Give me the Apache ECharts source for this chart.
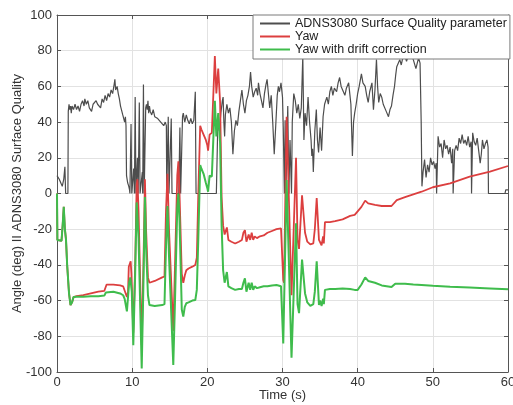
<!DOCTYPE html>
<html>
<head>
<meta charset="utf-8">
<script src="https://cdn.jsdelivr.net/npm/echarts@6/dist/echarts.min.js"></script>
<style>html,body{margin:0;padding:0;background:#fff}#c{width:513px;height:405px}</style>
</head>
<body>
<div id="c"></div>
<script>
var seriesNames = ['ADNS3080 Surface Quality parameter', 'Yaw', 'Yaw with drift correction'];
var xTicks = [0, 10, 20, 30, 40, 50, 60];
var yTicks = [-100, -80, -60, -40, -20, 0, 20, 40, 60, 80, 100];

var qualityT = [0,0.3,0.5,0.7,0.9,1.05,1.15,1.45,1.5,1.6,1.7,1.8,1.9,2.0,2.2,2.4,2.6,2.8,3.0,3.2,3.4,3.6,3.7,3.9,4.1,4.3,4.5,4.6,4.8,5.0,5.2,5.4,5.6,5.8,6.0,6.2,6.4,6.6,6.8,7.0,7.2,7.4,7.6,7.7,7.8,8.0,8.15,8.3,8.45,8.6,8.75,8.9,9.0,9.1,9.18,9.25,9.4,9.55,9.65,9.7,9.85,9.95,10.1,10.2,10.3,10.4,10.5,10.65,10.7,10.8,10.95,11.05,11.25,11.35,11.4,11.5,11.6,11.75,11.8,11.9,12.0,12.1,12.2,12.3,12.4,12.6,12.8,13.0,13.2,13.4,13.6,13.8,14.0,14.2,14.4,14.55,14.6,14.75,14.8,14.9,15.1,15.2,15.3,16.2,16.35,16.45,16.6,16.7,16.8,17.0,17.2,17.4,17.6,17.8,18.0,18.2,18.3,18.4,18.5,21.2,21.3,21.4,21.6,21.8,22.0,22.1,22.2,22.3,22.4,22.6,22.8,23.0,23.2,23.4,23.6,23.8,24.0,24.2,24.4,24.6,24.8,25.0,25.2,25.4,25.6,25.75,25.9,26.1,26.3,26.5,26.7,26.8,27.0,27.2,27.4,27.6,27.8,27.95,28.1,28.3,28.5,28.7,28.9,29.1,29.3,29.45,29.6,29.8,30.0,30.1,30.25,30.35,30.45,30.6,30.7,30.85,31.0,31.2,31.3,31.5,31.7,31.9,32.1,32.3,32.5,32.7,32.85,33.0,33.2,33.4,33.6,33.8,33.9,34.0,34.1,34.3,34.5,34.65,34.8,35.0,35.2,35.4,35.6,35.9,36.1,36.3,36.5,36.7,36.9,37.2,37.4,37.6,37.8,38.0,38.3,38.5,38.8,38.97,39.1,39.3,39.45,39.6,39.8,40.0,40.2,40.5,40.7,41.0,41.2,41.4,41.6,41.9,42.1,42.3,42.5,42.65,42.8,43.0,43.2,43.4,43.6,43.8,44.1,44.3,44.5,44.7,44.9,45.05,45.2,45.4,45.6,45.8,46.0,46.3,46.5,46.8,47.0,47.2,47.4,47.6,47.75,47.9,48.1,48.3,48.45,48.55,48.7,48.9,49.1,49.3,49.5,49.7,49.9,50.1,50.3,50.45,50.5,50.65,50.7,50.9,51.1,51.3,51.5,51.7,51.9,52.1,52.3,52.5,52.65,52.7,52.85,52.9,53.1,53.3,53.5,53.7,53.9,54.1,54.3,54.5,54.7,54.9,55.1,55.15,55.25,55.3,55.5,55.7,55.9,56.1,56.3,56.45,56.6,56.8,57.0,57.2,57.35,57.4,59.6,59.7,59.9,60];
var qualityV = [10,8,6,4,8,15,0,0,46,50,47,49,45,49,47,50,47,49,46,50,52,49,53,50,52,48,49,46,50,49,52,50,51,48,53,51,55,52,56,54,58,56,61,64,58,60,56,53,49,50,44,45,40,43,38,10,6,4,2,0,39,0,0,14,0,54,0,0,20,0,51,0,0,12,0,61,0,0,48,50,47,52,45,49,46,44,47,43,44,42,43,40,41,38,40,38,0,0,43,0,0,42,0,0,37,0,0,43,45,40,44,41,39,42,39,41,40,57,0,0,20,41,35,45,52,54,40,32,44,50,45,48,40,22,35,41,38,46,52,58,50,45,52,55,60,68,60,54,57,59,55,62,56,52,48,56,61,64,57,48,55,40,22,38,55,60,57,62,54,37,0,41,0,0,49,0,30,0,40,56,52,45,50,42,48,77,30,45,38,54,40,30,21,25,12,35,47,30,23,37,24,43,50,54,50,57,60,55,59,57,62,65,60,58,55,59,62,61,50,21,40,45,50,56,60,67,62,60,55,51,57,62,47,58,75,60,51,56,54,50,49,46,43,47,49,55,60,66,71,73,75,72,76,77,74,78,76,78,75,76,70,71,76,73,40,4,12,19,9,16,12,20,16,18,14,17,0,0,32,26,28,20,30,25,27,22,26,17,25,0,0,24,27,24,31,28,33,28,30,27,32,26,29,0,0,34,29,27,31,24,17,22,30,25,28,30,26,0,0,2,3,2];

var yawT = [0,0.05,0.6,0.75,0.9,1.05,1.2,1.35,1.6,1.8,2.0,2.2,2.6,3.5,4.5,5.5,6.3,6.6,7.5,8.4,8.8,9.0,9.3,9.45,9.55,9.7,9.8,9.9,10.15,10.4,10.6,10.7,10.85,11.27,11.5,11.7,11.85,12.1,12.3,13.0,14.0,14.3,14.5,14.7,14.9,15.47,15.7,16.0,16.15,16.3,16.6,16.8,17.0,17.2,17.5,18.0,18.4,18.6,18.8,19.05,19.2,19.5,19.8,20.0,20.1,20.3,20.6,20.8,21.0,21.2,21.45,21.7,21.9,22.1,22.3,22.6,22.8,23.2,23.7,24.2,24.6,24.8,25.0,25.2,25.5,25.7,25.9,26.1,26.3,26.6,27.0,27.5,28.0,28.6,29.2,29.8,29.95,30.1,30.2,30.55,31.2,31.8,32.0,32.2,32.6,33.0,33.3,33.7,34.1,34.3,34.55,34.85,35.0,35.2,35.4,35.5,35.65,36.3,37.0,38.0,39.0,39.6,40.0,40.5,41.0,41.4,42.3,43.2,44.5,45.2,46.3,47.4,48.5,50.0,52.3,54.9,57.6,60];
var yawV = [0,-26,-26.5,-18,-7.5,-20,-26,-40,-56,-62.5,-61,-58,-57.5,-57,-56,-55,-54.5,-51,-51,-51.5,-52,-53,-58,-55,-41,-40,-38,-45,-78,-40,5,8,-10,-85,-40,8,-20,-47,-50,-49,-47,-46.5,-10,11,-20,-77,-40,10,18,0,-45,-50,-46,-43,-42,-41,-40,-36,0,38,36,33,30,27,24,33,34,34,77,56,70,51,-2,-18,-23,-19,-26,-27,-28,-27,-26,-22,-20.5,-27,-23,-26,-22,-26,-24,-25,-24,-23.5,-22,-21,-20,-19.5,-20,-48.5,-50,43,-57,20,-26,-31,-1,-22,-27,-28.5,-28,-20,-2.5,-26,-25,-29,-24,-28,-16,-16,-15.5,-14.5,-12.5,-12,-10,-7.5,-4,-5.5,-6.4,-7,-7,-3.7,-2,-0.5,1,3.5,5.7,9.4,12.2,15.4];

var correctedT = [0,0.05,0.6,0.75,0.9,1.05,1.2,1.35,1.6,1.8,2.0,2.2,2.6,3.5,4.5,5.5,6.3,6.5,7.5,8.4,8.8,9.0,9.3,9.45,9.6,9.75,9.85,9.95,10.15,10.4,10.6,10.7,10.85,11.27,11.5,11.7,11.85,12.1,12.3,13.0,14.0,14.3,14.5,14.7,14.9,15.47,15.7,16.0,16.15,16.3,16.6,16.8,17.0,17.2,17.5,18.0,18.4,18.6,18.8,19.05,19.2,19.5,19.8,20.0,20.1,20.3,20.6,20.8,21.0,21.2,21.45,21.7,21.9,22.1,22.3,22.6,22.8,23.2,23.7,24.2,24.6,24.8,25.0,25.2,25.5,25.7,25.9,26.1,26.3,26.6,27.0,27.5,28.0,28.6,29.2,29.8,29.95,30.1,30.2,30.55,31.2,31.8,32.0,32.2,32.6,33.0,33.3,33.7,34.1,34.3,34.55,34.85,35.0,35.2,35.4,35.5,35.65,36.3,37.0,38.0,39.0,39.6,40.0,40.5,41.0,41.4,42.3,43.2,44.5,45.0,46.3,47.4,48.5,50.0,52.3,54.9,57.6,60];
var correctedV = [0,-26,-26.5,-18,-7.5,-20,-26,-40,-56,-62.5,-61,-58,-57.8,-57.8,-57.5,-57.5,-57.2,-55.5,-55,-56,-57,-59,-66,-66,-50,-47,-48,-55,-85,-45,-5,-4,-25,-98,-50,-2,-30,-57,-62.5,-63,-62.5,-62,-30,-7,-35,-96,-60,-8,0,-15,-65,-69,-63.5,-61.5,-61,-60,-59.7,-54,-25,16,14,11,6,3,1,10,9.5,10,52,32,45,28,-18,-43,-50,-44,-52,-53,-54,-53.5,-53.5,-50,-47.5,-55,-50,-54,-50,-54,-52,-53,-52.5,-52,-52,-51.5,-51.3,-52,-53,-84,-84,7.6,-92,-16.7,-62,-67,-37,-56,-61,-63,-62,-55,-38,-62.5,-60,-63,-59,-62,-54,-53.5,-53.5,-53.2,-53.5,-54,-54,-51,-47,-49,-50,-51.5,-52.4,-50.5,-50.5,-51,-51.2,-51.7,-52.2,-52.7,-53.2,-53.7];

function zip(t, v) { return t.map(function (x, i) { return [x, v[i]]; }); }

var chart = echarts.init(document.getElementById('c'), null, { renderer: 'canvas' });
var font = 'Liberation Sans, Arial, Helvetica, sans-serif';
var axisCol = '#555555';
chart.setOption({
  animation: false,
  backgroundColor: '#ffffff',
  grid: { left: 57, right: 5, top: 15, bottom: 33, containLabel: false, outerBoundsMode: 'none' },
  legend: {
    left: 253, top: 15, orient: 'vertical',
    padding: [2, 3, 3, 7], itemGap: 0, itemWidth: 30, itemHeight: 2,
    backgroundColor: '#ffffff', borderColor: '#7a7a7a', borderWidth: 1, borderRadius: 0,
    icon: 'rect',
    textStyle: { fontFamily: font, fontSize: 12.5, color: '#222', lineHeight: 11 },
    data: seriesNames
  },
  xAxis: [{
    type: 'value', min: xTicks[0], max: xTicks[xTicks.length - 1], interval: 10,
    name: 'Time (s)', nameLocation: 'middle', nameGap: 17, nameMoveOverlap: false,
    nameTextStyle: { fontFamily: font, fontSize: 13, color: '#333', verticalAlign: 'top' },
    axisLine: { onZero: false, lineStyle: { color: axisCol, width: 1 } },
    axisTick: { inside: true, length: 4, lineStyle: { color: axisCol } },
    axisLabel: { fontFamily: font, fontSize: 13, color: '#333', margin: 4 },
    splitLine: { show: true, lineStyle: { color: '#e2e2e2', width: 1 } }
  }, {
    type: 'value', position: 'top', min: xTicks[0], max: xTicks[xTicks.length - 1], interval: 10,
    axisLine: { show: true, onZero: false, lineStyle: { color: axisCol, width: 1 } },
    axisTick: { inside: true, length: 4, lineStyle: { color: axisCol } },
    axisLabel: { show: false }, splitLine: { show: false }
  }],
  yAxis: [{
    type: 'value', min: yTicks[0], max: yTicks[yTicks.length - 1], interval: 20,
    name: 'Angle (deg) II ADNS3080 Surface Quality', nameLocation: 'middle', nameGap: 33, nameMoveOverlap: false,
    nameTextStyle: { fontFamily: font, fontSize: 13, color: '#333' },
    axisLine: { show: true, onZero: false, lineStyle: { color: axisCol, width: 1 } },
    axisTick: { show: true, inside: true, length: 4, lineStyle: { color: axisCol } },
    axisLabel: { fontFamily: font, fontSize: 13, color: '#333', margin: 5 },
    splitLine: { show: true, lineStyle: { color: '#e2e2e2', width: 1 } }
  }, {
    type: 'value', position: 'right', min: yTicks[0], max: yTicks[yTicks.length - 1], interval: 20,
    axisLine: { show: true, onZero: false, lineStyle: { color: axisCol, width: 1 } },
    axisTick: { show: true, inside: true, length: 4, lineStyle: { color: axisCol } },
    axisLabel: { show: false }, splitLine: { show: false }
  }],
  series: [{
    name: seriesNames[0], type: 'line', data: zip(qualityT, qualityV),
    showSymbol: false, symbol: 'none', color: '#4d4d4d',
    lineStyle: { color: '#4d4d4d', width: 1.2 }, z: 2
  }, {
    name: seriesNames[1], type: 'line', data: zip(yawT, yawV),
    showSymbol: false, symbol: 'none', color: '#dc3f3f',
    lineStyle: { color: '#dc3f3f', width: 1.8 }, z: 3
  }, {
    name: seriesNames[2], type: 'line', data: zip(correctedT, correctedV),
    showSymbol: false, symbol: 'none', color: '#3fbc4c',
    lineStyle: { color: '#3fbc4c', width: 2 }, z: 4
  }]
});
</script>
</body>
</html>
